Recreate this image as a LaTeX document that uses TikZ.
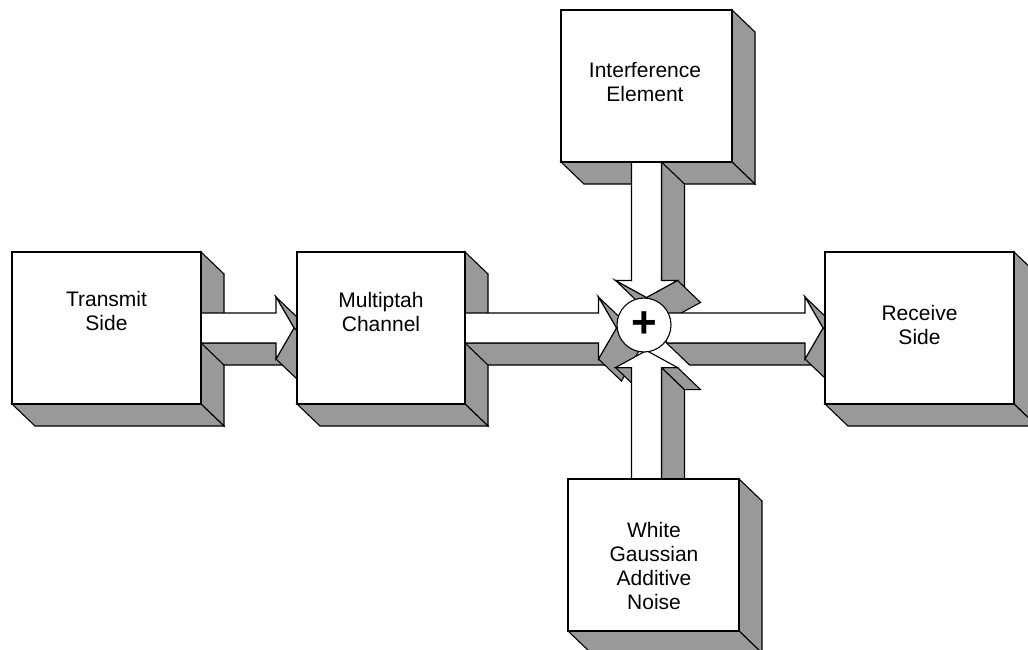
\documentclass[tikz,border=0pt]{standalone}
\usepackage{fontspec}
\setmainfont{Liberation Sans}
\usepackage{tikz}
\usetikzlibrary{positioning,calc}
\pgfdeclarelayer{faces}
\pgfdeclarelayer{arrows}
\pgfsetlayers{faces,arrows,main}
\definecolor{shade}{RGB}{153,153,153}

% block arrows, #1 = start, #2 = tip
\newcommand\blockright[2]{%
  \path (#1) coordinate (s) (#2) coordinate (t);
  \filldraw[grayface] ($(s)+(0,15)$) -- ($(t)+(-18,15)$) -- ($(t)+(5,37)$) -- ($(s)+(23,37)$) -- cycle;
  \filldraw[grayface] ($(t)+(-18,-31)$) -- (t) -- ($(t)+(23,22)$) -- ($(t)+(5,-9)$) -- cycle;
  \filldraw[grayface] (t) -- ($(t)+(-18,31)$) -- ($(t)+(5,53)$) -- ($(t)+(23,22)$) -- cycle;
  \filldraw[whiteface] ($(s)+(0,-15)$) -- ($(t)+(-18,-15)$) -- ($(t)+(-18,-31)$) -- (t) -- ($(t)+(-18,31)$) -- ($(t)+(-18,15)$) -- ($(s)+(0,15)$) -- cycle;
}
\newcommand\blockdown[2]{%
  \path (#1) coordinate (s) (#2) coordinate (t);
  \filldraw[grayface] ($(s)+(15,0)$) -- ($(t)+(15,-17)$) -- ($(t)+(38,5)$) -- ($(s)+(38,22)$) -- cycle;
  \filldraw[grayface] ($(t)+(-31,-17)$) -- (t) -- ($(t)+(23,22)$) -- ($(t)+(-8,5)$) -- cycle;
  \filldraw[grayface] (t) -- ($(t)+(31,-17)$) -- ($(t)+(54,5)$) -- ($(t)+(23,22)$) -- cycle;
  \filldraw[whiteface] ($(s)+(-15,0)$) -- ($(t)+(-15,-17)$) -- ($(t)+(-31,-17)$) -- (t) -- ($(t)+(31,-17)$) -- ($(t)+(15,-17)$) -- ($(s)+(15,0)$) -- cycle;
}
\newcommand\blockup[2]{%
  \path (#1) coordinate (s) (#2) coordinate (t);
  \filldraw[grayface] ($(t)+(15,17)$) -- ($(s)+(15,0)$) -- ($(s)+(38,22)$) -- ($(t)+(38,39)$) -- cycle;
  \filldraw[grayface] ($(t)+(-31,17)$) -- ($(t)+(-15,17)$) -- ($(t)+(8,39)$) -- ($(t)+(-8,39)$) -- cycle;
  \filldraw[grayface] ($(t)+(15,17)$) -- ($(t)+(31,17)$) -- ($(t)+(54,39)$) -- ($(t)+(38,39)$) -- cycle;
  \filldraw[whiteface] ($(s)+(-15,0)$) -- ($(t)+(-15,17)$) -- ($(t)+(-31,17)$) -- (t) -- ($(t)+(31,17)$) -- ($(t)+(15,17)$) -- ($(s)+(15,0)$) -- cycle;
}

\begin{document}
\begin{tikzpicture}[x=1pt,y=-1pt,
    box/.style={draw,fill=white,line width=1.1pt,inner sep=0pt,outer sep=0pt,minimum height=152pt},
    grayface/.style={draw,fill=shade,line width=1.1pt},
    whiteface/.style={draw,fill=white,line width=1.1pt},
    txt/.style={align=center,inner sep=0pt,font=\fontsize{21}{24}\selectfont},
    adder/.style={circle,draw,fill=white,line width=1.1pt,minimum size=54pt,inner sep=0pt,font=\fontsize{44}{44}\selectfont\bfseries}]
  \useasboundingbox (0,0) rectangle (1028,650);

  \node[box,minimum width=189pt] (tx) at (106.5,328) {};
  \node[box,minimum width=168pt,right=96pt of tx] (mc) {};
  \node[box,minimum width=189pt,right=360pt of mc] (rs) {};
  \node[box,minimum width=171pt] (ie) at (646.5,86) {};
  \node[box,minimum width=171pt] (wn) at (653.5,555) {};
  \node[adder] (sum) at (644,325) {+};

  \node[txt] (txl) at ($(tx)+(0,-17)$) {Transmit\\Side};
  \node[txt] (mcl) at ($(mc)+(0,-16)$) {Multiptah\\Channel};
  \node[txt] (rsl) at ($(rs)+(0,-3)$) {Receive\\Side};
  \node[txt] (iel) at ($(ie)+(-1.5,-4)$) {Interference\\Element};
  \node[txt] (wnl) at ($(wn)+(0.5,11)$) {White\\Gaussian\\Additive\\Noise};

  %box sides
  \begin{pgfonlayer}{faces}
    \foreach \b in {tx,mc,rs,ie,wn}{
      \filldraw[grayface] (\b.north east) -- ++(23,22) -- ($(\b.south east)+(23,22)$) -- (\b.south east) -- cycle;
      \filldraw[grayface] (\b.south west) -- ++(23,22) -- ($(\b.south east)+(23,22)$) -- (\b.south east) -- cycle;
    }
  \end{pgfonlayer}

  \begin{pgfonlayer}{arrows}
    %tx>mc
    \blockright{tx.east}{$(mc.west)+(-3,0)$}
    %mc>sum
    \blockright{mc.east}{sum.west |- mc.east}
    %ie>sum
    \blockdown{ie.south}{ie.south |- sum.north}
    %sum>rs
    \blockright{$(sum.east |- mc.east)+(-5,0)$}{$(rs.west)+(-2,0)$}
    %wn>sum
    \blockup{ie.south |- wn.north}{$(ie.south |- sum.south)+(0,-2)$}
  \end{pgfonlayer}
\end{tikzpicture}
\end{document}
